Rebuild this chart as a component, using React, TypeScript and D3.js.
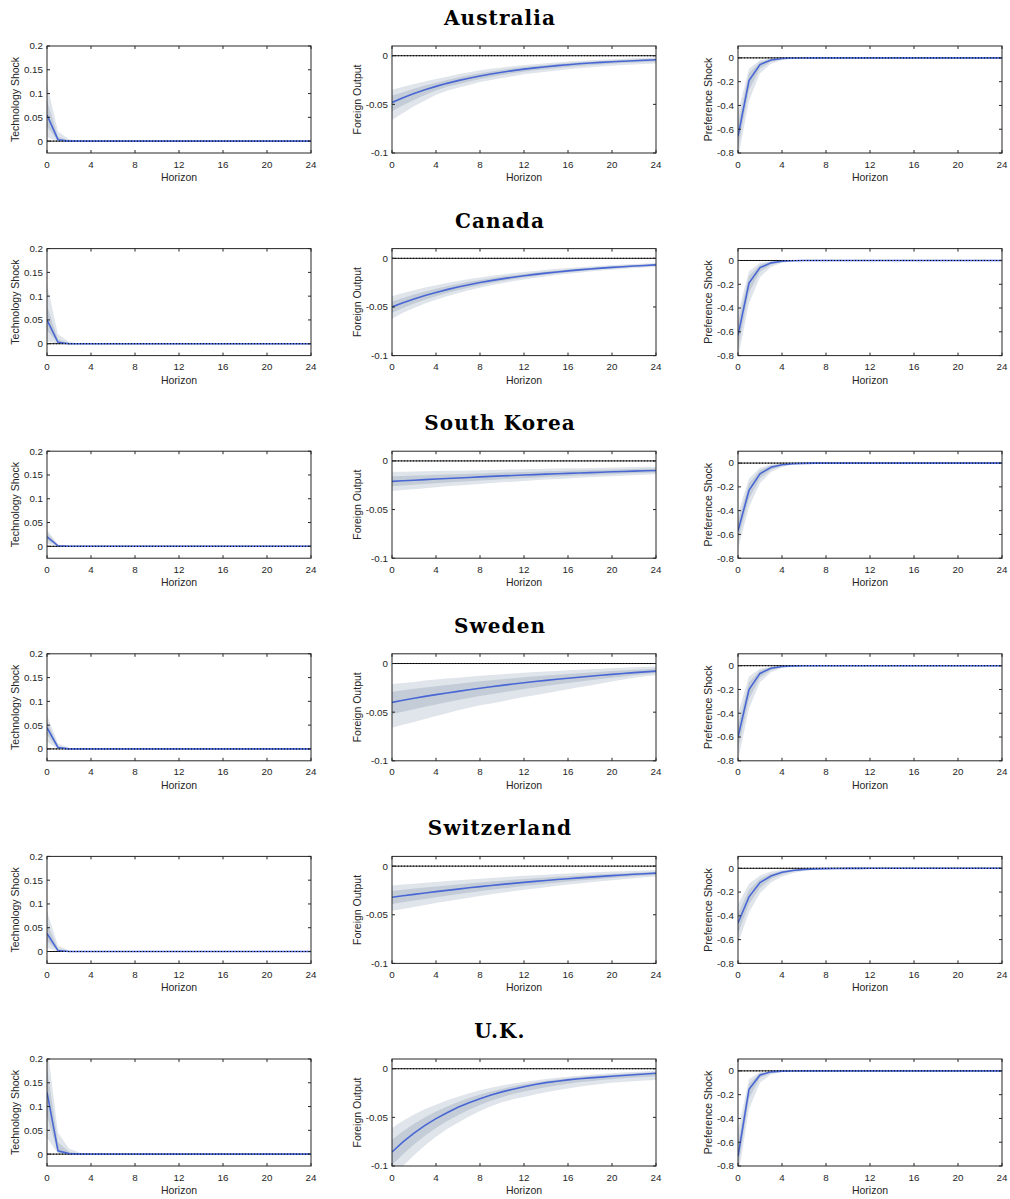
import React from "react";
import * as d3 from "d3";

// countries (one row each) and the three responses (one column each)
const countries = ["Australia", "Canada", "South Korea", "Sweden", "Switzerland", "U.K."];
const yLabels = ["Technology Shock", "Foreign Output", "Preference Shock"];

const horizons = [0, 1, 2, 3, 4, 5, 6, 7, 8, 9, 10, 11, 12, 13, 14, 15, 16, 17, 18, 19, 20, 21, 22, 23, 24];
const xTicks = [0, 4, 8, 12, 16, 20, 24];

const techTicks = [0, 0.05, 0.1, 0.15, 0.2];
const techTickLabels = ["0", "0.05", "0.1", "0.15", "0.2"];
const foTicks = [-0.1, -0.05, 0];
const foTickLabels = ["-0.1", "-0.05", "0"];
const prefTicks = [-0.8, -0.6, -0.4, -0.2, 0];
const prefTickLabels = ["-0.8", "-0.6", "-0.4", "-0.2", "0"];

// ---- Technology shock: median, outer band (lo/hi), inner band (lo/hi)
const auTechMed = [0.055, 0.003, 0, 0, 0, 0, 0, 0, 0, 0, 0, 0, 0, 0, 0, 0, 0, 0, 0, 0, 0, 0, 0, 0, 0];
const auTechLoOut = [0.008, 0, 0, 0, 0, 0, 0, 0, 0, 0, 0, 0, 0, 0, 0, 0, 0, 0, 0, 0, 0, 0, 0, 0, 0];
const auTechHiOut = [0.12, 0.02, 0.004, 0.0005, 0, 0, 0, 0, 0, 0, 0, 0, 0, 0, 0, 0, 0, 0, 0, 0, 0, 0, 0, 0, 0];
const auTechLoIn = [0.03, 0.001, 0, 0, 0, 0, 0, 0, 0, 0, 0, 0, 0, 0, 0, 0, 0, 0, 0, 0, 0, 0, 0, 0, 0];
const auTechHiIn = [0.085, 0.009, 0.001, 0, 0, 0, 0, 0, 0, 0, 0, 0, 0, 0, 0, 0, 0, 0, 0, 0, 0, 0, 0, 0, 0];

const caTechMed = [0.05, 0.003, 0, 0, 0, 0, 0, 0, 0, 0, 0, 0, 0, 0, 0, 0, 0, 0, 0, 0, 0, 0, 0, 0, 0];
const caTechLoOut = [0.005, 0, 0, 0, 0, 0, 0, 0, 0, 0, 0, 0, 0, 0, 0, 0, 0, 0, 0, 0, 0, 0, 0, 0, 0];
const caTechHiOut = [0.125, 0.02, 0.004, 0.0005, 0, 0, 0, 0, 0, 0, 0, 0, 0, 0, 0, 0, 0, 0, 0, 0, 0, 0, 0, 0, 0];
const caTechLoIn = [0.028, 0.001, 0, 0, 0, 0, 0, 0, 0, 0, 0, 0, 0, 0, 0, 0, 0, 0, 0, 0, 0, 0, 0, 0, 0];
const caTechHiIn = [0.08, 0.009, 0.001, 0, 0, 0, 0, 0, 0, 0, 0, 0, 0, 0, 0, 0, 0, 0, 0, 0, 0, 0, 0, 0, 0];

const krTechMed = [0.02, 0.001, 0, 0, 0, 0, 0, 0, 0, 0, 0, 0, 0, 0, 0, 0, 0, 0, 0, 0, 0, 0, 0, 0, 0];
const krTechLoOut = [0.006, 0, 0, 0, 0, 0, 0, 0, 0, 0, 0, 0, 0, 0, 0, 0, 0, 0, 0, 0, 0, 0, 0, 0, 0];
const krTechHiOut = [0.035, 0.004, 0.0005, 0, 0, 0, 0, 0, 0, 0, 0, 0, 0, 0, 0, 0, 0, 0, 0, 0, 0, 0, 0, 0, 0];
const krTechLoIn = [0.013, 0.0005, 0, 0, 0, 0, 0, 0, 0, 0, 0, 0, 0, 0, 0, 0, 0, 0, 0, 0, 0, 0, 0, 0, 0];
const krTechHiIn = [0.028, 0.002, 0, 0, 0, 0, 0, 0, 0, 0, 0, 0, 0, 0, 0, 0, 0, 0, 0, 0, 0, 0, 0, 0, 0];

const seTechMed = [0.045, 0.003, 0, 0, 0, 0, 0, 0, 0, 0, 0, 0, 0, 0, 0, 0, 0, 0, 0, 0, 0, 0, 0, 0, 0];
const seTechLoOut = [0.015, 0, 0, 0, 0, 0, 0, 0, 0, 0, 0, 0, 0, 0, 0, 0, 0, 0, 0, 0, 0, 0, 0, 0, 0];
const seTechHiOut = [0.07, 0.012, 0.002, 0, 0, 0, 0, 0, 0, 0, 0, 0, 0, 0, 0, 0, 0, 0, 0, 0, 0, 0, 0, 0, 0];
const seTechLoIn = [0.03, 0.001, 0, 0, 0, 0, 0, 0, 0, 0, 0, 0, 0, 0, 0, 0, 0, 0, 0, 0, 0, 0, 0, 0, 0];
const seTechHiIn = [0.058, 0.006, 0.001, 0, 0, 0, 0, 0, 0, 0, 0, 0, 0, 0, 0, 0, 0, 0, 0, 0, 0, 0, 0, 0, 0];

const chTechMed = [0.038, 0.002, 0, 0, 0, 0, 0, 0, 0, 0, 0, 0, 0, 0, 0, 0, 0, 0, 0, 0, 0, 0, 0, 0, 0];
const chTechLoOut = [0.008, 0, 0, 0, 0, 0, 0, 0, 0, 0, 0, 0, 0, 0, 0, 0, 0, 0, 0, 0, 0, 0, 0, 0, 0];
const chTechHiOut = [0.085, 0.012, 0.002, 0, 0, 0, 0, 0, 0, 0, 0, 0, 0, 0, 0, 0, 0, 0, 0, 0, 0, 0, 0, 0, 0];
const chTechLoIn = [0.022, 0.001, 0, 0, 0, 0, 0, 0, 0, 0, 0, 0, 0, 0, 0, 0, 0, 0, 0, 0, 0, 0, 0, 0, 0];
const chTechHiIn = [0.06, 0.006, 0.001, 0, 0, 0, 0, 0, 0, 0, 0, 0, 0, 0, 0, 0, 0, 0, 0, 0, 0, 0, 0, 0, 0];

const ukTechMed = [0.13, 0.007, 0.001, 0, 0, 0, 0, 0, 0, 0, 0, 0, 0, 0, 0, 0, 0, 0, 0, 0, 0, 0, 0, 0, 0];
const ukTechLoOut = [0.035, 0.001, 0, 0, 0, 0, 0, 0, 0, 0, 0, 0, 0, 0, 0, 0, 0, 0, 0, 0, 0, 0, 0, 0, 0];
const ukTechHiOut = [0.23, 0.045, 0.012, 0.003, 0.0005, 0, 0, 0, 0, 0, 0, 0, 0, 0, 0, 0, 0, 0, 0, 0, 0, 0, 0, 0, 0];
const ukTechLoIn = [0.08, 0.003, 0, 0, 0, 0, 0, 0, 0, 0, 0, 0, 0, 0, 0, 0, 0, 0, 0, 0, 0, 0, 0, 0, 0];
const ukTechHiIn = [0.18, 0.025, 0.005, 0.001, 0, 0, 0, 0, 0, 0, 0, 0, 0, 0, 0, 0, 0, 0, 0, 0, 0, 0, 0, 0, 0];

// ---- Foreign output
const auFoMed = [-0.048, -0.0432, -0.0389, -0.035, -0.0315, -0.0284, -0.0256, -0.0231, -0.0208, -0.0188, -0.017, -0.0153, -0.0138, -0.0125, -0.0113, -0.0102, -0.0092, -0.0083, -0.0075, -0.0068, -0.0062, -0.0056, -0.0051, -0.0046, -0.0042];
const auFoLoOut = [-0.066, -0.059, -0.052, -0.046, -0.04, -0.036, -0.033, -0.03, -0.027, -0.025, -0.023, -0.021, -0.019, -0.0177, -0.0164, -0.0152, -0.014, -0.013, -0.012, -0.011, -0.0102, -0.0096, -0.009, -0.0085, -0.008];
const auFoHiOut = [-0.035, -0.032, -0.029, -0.0265, -0.024, -0.0215, -0.019, -0.017, -0.015, -0.0135, -0.012, -0.0108, -0.0096, -0.0087, -0.0078, -0.0069, -0.006, -0.0053, -0.0047, -0.0041, -0.0035, -0.003, -0.0025, -0.0021, -0.0017];
const auFoLoIn = [-0.057, -0.051, -0.0455, -0.0405, -0.0358, -0.032, -0.0293, -0.0265, -0.024, -0.0218, -0.0198, -0.018, -0.0164, -0.015, -0.0138, -0.0127, -0.0116, -0.0106, -0.0097, -0.0089, -0.0082, -0.0076, -0.007, -0.0065, -0.0061];
const auFoHiIn = [-0.041, -0.0376, -0.034, -0.0307, -0.0277, -0.025, -0.0223, -0.02, -0.0179, -0.0162, -0.0145, -0.013, -0.0117, -0.0106, -0.0095, -0.0085, -0.0076, -0.0068, -0.0061, -0.0055, -0.0049, -0.0043, -0.0038, -0.0034, -0.003];

const caFoMed = [-0.05, -0.0457, -0.0418, -0.0383, -0.0351, -0.0322, -0.0295, -0.0271, -0.0249, -0.0229, -0.0211, -0.0194, -0.0179, -0.0165, -0.0152, -0.014, -0.0129, -0.0119, -0.011, -0.0101, -0.0093, -0.0086, -0.0079, -0.0073, -0.0067];
const caFoLoOut = [-0.062, -0.056, -0.051, -0.0465, -0.0425, -0.039, -0.0358, -0.0328, -0.0302, -0.0278, -0.0256, -0.0236, -0.0218, -0.0201, -0.0186, -0.0172, -0.0159, -0.0147, -0.0136, -0.0126, -0.0117, -0.0109, -0.0101, -0.0094, -0.0088];
const caFoHiOut = [-0.039, -0.0357, -0.0327, -0.03, -0.0276, -0.0253, -0.0232, -0.0213, -0.0196, -0.018, -0.0165, -0.0152, -0.014, -0.0129, -0.0118, -0.0108, -0.0099, -0.0091, -0.0084, -0.0077, -0.007, -0.0064, -0.0058, -0.0053, -0.0048];
const caFoLoIn = [-0.056, -0.051, -0.0465, -0.0425, -0.039, -0.0357, -0.0327, -0.03, -0.0276, -0.0254, -0.0234, -0.0215, -0.0198, -0.0183, -0.0169, -0.0156, -0.0144, -0.0133, -0.0123, -0.0113, -0.0105, -0.0097, -0.009, -0.0083, -0.0077];
const caFoHiIn = [-0.0445, -0.0407, -0.0372, -0.0341, -0.0313, -0.0287, -0.0264, -0.0242, -0.0222, -0.0204, -0.0188, -0.0173, -0.016, -0.0147, -0.0135, -0.0124, -0.0114, -0.0105, -0.0097, -0.0089, -0.0081, -0.0075, -0.0068, -0.0063, -0.0057];

const krFoMed = [-0.021, -0.0204, -0.0198, -0.0192, -0.0186, -0.018, -0.0175, -0.017, -0.0164, -0.0159, -0.0154, -0.015, -0.0145, -0.0141, -0.0136, -0.0132, -0.0128, -0.0124, -0.012, -0.0116, -0.0112, -0.0108, -0.0105, -0.0101, -0.0098];
const krFoLoOut = [-0.031, -0.03, -0.029, -0.028, -0.027, -0.026, -0.0252, -0.0244, -0.0236, -0.0228, -0.022, -0.0213, -0.0206, -0.0199, -0.0192, -0.0186, -0.018, -0.0174, -0.0168, -0.0162, -0.0157, -0.0152, -0.0147, -0.0142, -0.0138];
const krFoHiOut = [-0.011, -0.011, -0.0108, -0.0106, -0.0104, -0.0102, -0.01, -0.0098, -0.0095, -0.0093, -0.009, -0.0088, -0.0085, -0.0083, -0.008, -0.0078, -0.0076, -0.0074, -0.0072, -0.007, -0.0067, -0.0065, -0.0063, -0.0061, -0.0059];
const krFoLoIn = [-0.026, -0.0252, -0.0244, -0.0236, -0.0229, -0.0221, -0.0215, -0.0208, -0.0201, -0.0195, -0.0188, -0.0183, -0.0177, -0.0172, -0.0166, -0.0161, -0.0156, -0.0151, -0.0146, -0.0141, -0.0136, -0.0131, -0.0127, -0.0123, -0.0119];
const krFoHiIn = [-0.0158, -0.0155, -0.0151, -0.0147, -0.0143, -0.0139, -0.0136, -0.0132, -0.0128, -0.0124, -0.012, -0.0117, -0.0113, -0.011, -0.0106, -0.0103, -0.01, -0.0097, -0.0094, -0.0091, -0.0088, -0.0085, -0.0082, -0.0079, -0.0077];

const seFoMed = [-0.04, -0.0378, -0.0357, -0.0338, -0.032, -0.0303, -0.0286, -0.027, -0.0254, -0.0239, -0.0225, -0.0211, -0.0198, -0.0185, -0.0173, -0.0162, -0.0151, -0.0141, -0.0131, -0.0121, -0.0112, -0.0103, -0.0094, -0.0086, -0.0078];
const seFoLoOut = [-0.066, -0.063, -0.06, -0.057, -0.054, -0.051, -0.048, -0.0455, -0.043, -0.041, -0.039, -0.0365, -0.0345, -0.0325, -0.0305, -0.0285, -0.0265, -0.0245, -0.0225, -0.0205, -0.0185, -0.0165, -0.0147, -0.0132, -0.012];
const seFoHiOut = [-0.021, -0.02, -0.019, -0.0175, -0.0165, -0.0155, -0.0145, -0.0135, -0.0125, -0.0118, -0.011, -0.0102, -0.0095, -0.0088, -0.0082, -0.0076, -0.007, -0.0064, -0.0058, -0.0053, -0.0048, -0.0043, -0.0038, -0.0034, -0.003];
const seFoLoIn = [-0.052, -0.0495, -0.047, -0.0445, -0.042, -0.0398, -0.0376, -0.0355, -0.0335, -0.0316, -0.0298, -0.028, -0.0263, -0.0247, -0.0231, -0.0216, -0.0201, -0.0187, -0.0173, -0.016, -0.0147, -0.0134, -0.0121, -0.0109, -0.0098];
const seFoHiIn = [-0.029, -0.0275, -0.026, -0.0246, -0.0233, -0.022, -0.0207, -0.0195, -0.0183, -0.0172, -0.0162, -0.0152, -0.0142, -0.0132, -0.0123, -0.0115, -0.0107, -0.0099, -0.0092, -0.0085, -0.0078, -0.0071, -0.0064, -0.0058, -0.0052];

const chFoMed = [-0.032, -0.0305, -0.029, -0.0276, -0.0262, -0.0249, -0.0236, -0.0223, -0.0211, -0.0199, -0.0188, -0.0177, -0.0167, -0.0157, -0.0147, -0.0138, -0.0129, -0.0121, -0.0113, -0.0105, -0.0098, -0.0091, -0.0084, -0.0078, -0.0072];
const chFoLoOut = [-0.046, -0.044, -0.042, -0.04, -0.038, -0.036, -0.0342, -0.0324, -0.0307, -0.029, -0.0274, -0.0259, -0.0244, -0.023, -0.0216, -0.0203, -0.019, -0.0178, -0.0166, -0.0155, -0.0144, -0.0134, -0.0124, -0.0115, -0.0106];
const chFoHiOut = [-0.02, -0.019, -0.018, -0.0171, -0.0162, -0.0153, -0.0145, -0.0137, -0.0129, -0.0121, -0.0114, -0.0107, -0.01, -0.0094, -0.0088, -0.0082, -0.0076, -0.0071, -0.0066, -0.0061, -0.0056, -0.0052, -0.0048, -0.0044, -0.004];
const chFoLoIn = [-0.039, -0.0372, -0.0354, -0.0337, -0.032, -0.0304, -0.0289, -0.0273, -0.0259, -0.0244, -0.0231, -0.0218, -0.0205, -0.0193, -0.0181, -0.017, -0.0159, -0.0149, -0.0139, -0.013, -0.0121, -0.0112, -0.0104, -0.0096, -0.0089];
const chFoHiIn = [-0.0255, -0.0243, -0.0231, -0.022, -0.0209, -0.0198, -0.0188, -0.0178, -0.0168, -0.0159, -0.015, -0.0141, -0.0133, -0.0125, -0.0117, -0.011, -0.0103, -0.0096, -0.009, -0.0084, -0.0078, -0.0072, -0.0067, -0.0062, -0.0057];

const ukFoMed = [-0.0856, -0.0753, -0.0663, -0.0583, -0.0513, -0.0452, -0.0397, -0.035, -0.0308, -0.0271, -0.0238, -0.021, -0.0185, -0.0162, -0.0143, -0.0128, -0.0115, -0.0103, -0.0094, -0.0086, -0.0078, -0.007, -0.0062, -0.0054, -0.0047];
const ukFoLoOut = [-0.112, -0.1, -0.089, -0.079, -0.07, -0.062, -0.0555, -0.049, -0.0435, -0.0385, -0.0345, -0.0315, -0.029, -0.0265, -0.0243, -0.0222, -0.0203, -0.0186, -0.017, -0.0157, -0.0145, -0.0136, -0.0128, -0.0121, -0.0115];
const ukFoHiOut = [-0.061, -0.0535, -0.047, -0.0415, -0.037, -0.0325, -0.0287, -0.0252, -0.0222, -0.0195, -0.0172, -0.0152, -0.0136, -0.012, -0.0106, -0.0093, -0.0082, -0.0072, -0.0063, -0.0055, -0.0047, -0.004, -0.0033, -0.0027, -0.0022];
const ukFoLoIn = [-0.099, -0.088, -0.078, -0.069, -0.061, -0.054, -0.0477, -0.0422, -0.0373, -0.033, -0.0292, -0.026, -0.0235, -0.0212, -0.0191, -0.0172, -0.0155, -0.014, -0.0128, -0.0117, -0.0108, -0.0099, -0.0091, -0.0084, -0.0078];
const ukFoHiIn = [-0.073, -0.0643, -0.0566, -0.0498, -0.044, -0.0388, -0.0342, -0.0301, -0.0265, -0.0233, -0.0205, -0.0181, -0.016, -0.0141, -0.0125, -0.011, -0.0097, -0.0086, -0.0077, -0.0069, -0.0061, -0.0054, -0.0047, -0.0041, -0.0035];

// ---- Preference shock
const auPrefMed = [-0.66, -0.19, -0.056, -0.018, -0.005, -0.0015, -0.0005, 0, 0, 0, 0, 0, 0, 0, 0, 0, 0, 0, 0, 0, 0, 0, 0, 0, 0];
const auPrefLoOut = [-0.85, -0.36, -0.13, -0.05, -0.018, -0.007, -0.003, -0.001, 0, 0, 0, 0, 0, 0, 0, 0, 0, 0, 0, 0, 0, 0, 0, 0, 0];
const auPrefHiOut = [-0.45, -0.09, -0.02, -0.004, -0.001, 0, 0, 0, 0, 0, 0, 0, 0, 0, 0, 0, 0, 0, 0, 0, 0, 0, 0, 0, 0];
const auPrefLoIn = [-0.76, -0.27, -0.09, -0.032, -0.011, -0.004, -0.0015, -0.0005, 0, 0, 0, 0, 0, 0, 0, 0, 0, 0, 0, 0, 0, 0, 0, 0, 0];
const auPrefHiIn = [-0.55, -0.13, -0.035, -0.009, -0.002, -0.0005, 0, 0, 0, 0, 0, 0, 0, 0, 0, 0, 0, 0, 0, 0, 0, 0, 0, 0, 0];

const caPrefMed = [-0.63, -0.19, -0.06, -0.02, -0.006, -0.002, -0.0006, 0, 0, 0, 0, 0, 0, 0, 0, 0, 0, 0, 0, 0, 0, 0, 0, 0, 0];
const caPrefLoOut = [-0.82, -0.36, -0.14, -0.055, -0.02, -0.008, -0.003, -0.001, 0, 0, 0, 0, 0, 0, 0, 0, 0, 0, 0, 0, 0, 0, 0, 0, 0];
const caPrefHiOut = [-0.44, -0.09, -0.02, -0.005, -0.001, 0, 0, 0, 0, 0, 0, 0, 0, 0, 0, 0, 0, 0, 0, 0, 0, 0, 0, 0, 0];
const caPrefLoIn = [-0.74, -0.27, -0.095, -0.035, -0.012, -0.004, -0.0015, -0.0005, 0, 0, 0, 0, 0, 0, 0, 0, 0, 0, 0, 0, 0, 0, 0, 0, 0];
const caPrefHiIn = [-0.52, -0.13, -0.035, -0.01, -0.003, -0.001, 0, 0, 0, 0, 0, 0, 0, 0, 0, 0, 0, 0, 0, 0, 0, 0, 0, 0, 0];

const krPrefMed = [-0.57, -0.23, -0.09, -0.035, -0.014, -0.005, -0.002, -0.0007, 0, 0, 0, 0, 0, 0, 0, 0, 0, 0, 0, 0, 0, 0, 0, 0, 0];
const krPrefLoOut = [-0.72, -0.37, -0.17, -0.075, -0.032, -0.014, -0.006, -0.0025, -0.001, 0, 0, 0, 0, 0, 0, 0, 0, 0, 0, 0, 0, 0, 0, 0, 0];
const krPrefHiOut = [-0.42, -0.13, -0.04, -0.012, -0.004, -0.001, 0, 0, 0, 0, 0, 0, 0, 0, 0, 0, 0, 0, 0, 0, 0, 0, 0, 0, 0];
const krPrefLoIn = [-0.65, -0.3, -0.13, -0.055, -0.022, -0.009, -0.0035, -0.0013, 0, 0, 0, 0, 0, 0, 0, 0, 0, 0, 0, 0, 0, 0, 0, 0, 0];
const krPrefHiIn = [-0.49, -0.17, -0.06, -0.02, -0.008, -0.003, -0.001, 0, 0, 0, 0, 0, 0, 0, 0, 0, 0, 0, 0, 0, 0, 0, 0, 0, 0];

const sePrefMed = [-0.6, -0.2, -0.065, -0.021, -0.007, -0.002, -0.0007, 0, 0, 0, 0, 0, 0, 0, 0, 0, 0, 0, 0, 0, 0, 0, 0, 0, 0];
const sePrefLoOut = [-0.8, -0.36, -0.14, -0.055, -0.02, -0.008, -0.003, -0.001, 0, 0, 0, 0, 0, 0, 0, 0, 0, 0, 0, 0, 0, 0, 0, 0, 0];
const sePrefHiOut = [-0.4, -0.09, -0.025, -0.006, -0.0015, 0, 0, 0, 0, 0, 0, 0, 0, 0, 0, 0, 0, 0, 0, 0, 0, 0, 0, 0, 0];
const sePrefLoIn = [-0.7, -0.28, -0.1, -0.036, -0.013, -0.005, -0.0018, -0.0006, 0, 0, 0, 0, 0, 0, 0, 0, 0, 0, 0, 0, 0, 0, 0, 0, 0];
const sePrefHiIn = [-0.5, -0.14, -0.04, -0.011, -0.003, -0.001, 0, 0, 0, 0, 0, 0, 0, 0, 0, 0, 0, 0, 0, 0, 0, 0, 0, 0, 0];

const chPrefMed = [-0.46, -0.24, -0.12, -0.065, -0.034, -0.018, -0.009, -0.005, -0.0025, -0.0013, -0.0007, -0.0003, 0, 0, 0, 0, 0, 0, 0, 0, 0, 0, 0, 0, 0];
const chPrefLoOut = [-0.63, -0.37, -0.21, -0.12, -0.07, -0.04, -0.023, -0.013, -0.0075, -0.0043, -0.0025, -0.0014, -0.0008, -0.0004, 0, 0, 0, 0, 0, 0, 0, 0, 0, 0, 0];
const chPrefHiOut = [-0.3, -0.13, -0.06, -0.027, -0.012, -0.005, -0.002, -0.001, 0, 0, 0, 0, 0, 0, 0, 0, 0, 0, 0, 0, 0, 0, 0, 0, 0];
const chPrefLoIn = [-0.55, -0.3, -0.165, -0.09, -0.05, -0.028, -0.015, -0.0085, -0.0047, -0.0026, -0.0014, -0.0008, -0.0004, 0, 0, 0, 0, 0, 0, 0, 0, 0, 0, 0, 0];
const chPrefHiIn = [-0.38, -0.18, -0.09, -0.045, -0.022, -0.011, -0.005, -0.0025, -0.0012, -0.0006, 0, 0, 0, 0, 0, 0, 0, 0, 0, 0, 0, 0, 0, 0, 0];

const ukPrefMed = [-0.72, -0.155, -0.035, -0.008, -0.002, -0.0005, 0, 0, 0, 0, 0, 0, 0, 0, 0, 0, 0, 0, 0, 0, 0, 0, 0, 0, 0];
const ukPrefLoOut = [-0.9, -0.32, -0.1, -0.03, -0.009, -0.003, -0.001, 0, 0, 0, 0, 0, 0, 0, 0, 0, 0, 0, 0, 0, 0, 0, 0, 0, 0];
const ukPrefHiOut = [-0.5, -0.07, -0.01, -0.002, -0.0005, 0, 0, 0, 0, 0, 0, 0, 0, 0, 0, 0, 0, 0, 0, 0, 0, 0, 0, 0, 0];
const ukPrefLoIn = [-0.82, -0.23, -0.06, -0.016, -0.004, -0.0012, -0.0004, 0, 0, 0, 0, 0, 0, 0, 0, 0, 0, 0, 0, 0, 0, 0, 0, 0, 0];
const ukPrefHiIn = [-0.61, -0.11, -0.02, -0.004, -0.001, 0, 0, 0, 0, 0, 0, 0, 0, 0, 0, 0, 0, 0, 0, 0, 0, 0, 0, 0, 0];

type Series = { med: number[]; loOut: number[]; hiOut: number[]; loIn: number[]; hiIn: number[] };
const mk = (med, loOut, hiOut, loIn, hiIn): Series => ({ med, loOut, hiOut, loIn, hiIn });

// rows = countries, columns = tech / foreign output / preference
const grid: Series[][] = [
  [mk(auTechMed, auTechLoOut, auTechHiOut, auTechLoIn, auTechHiIn), mk(auFoMed, auFoLoOut, auFoHiOut, auFoLoIn, auFoHiIn), mk(auPrefMed, auPrefLoOut, auPrefHiOut, auPrefLoIn, auPrefHiIn)],
  [mk(caTechMed, caTechLoOut, caTechHiOut, caTechLoIn, caTechHiIn), mk(caFoMed, caFoLoOut, caFoHiOut, caFoLoIn, caFoHiIn), mk(caPrefMed, caPrefLoOut, caPrefHiOut, caPrefLoIn, caPrefHiIn)],
  [mk(krTechMed, krTechLoOut, krTechHiOut, krTechLoIn, krTechHiIn), mk(krFoMed, krFoLoOut, krFoHiOut, krFoLoIn, krFoHiIn), mk(krPrefMed, krPrefLoOut, krPrefHiOut, krPrefLoIn, krPrefHiIn)],
  [mk(seTechMed, seTechLoOut, seTechHiOut, seTechLoIn, seTechHiIn), mk(seFoMed, seFoLoOut, seFoHiOut, seFoLoIn, seFoHiIn), mk(sePrefMed, sePrefLoOut, sePrefHiOut, sePrefLoIn, sePrefHiIn)],
  [mk(chTechMed, chTechLoOut, chTechHiOut, chTechLoIn, chTechHiIn), mk(chFoMed, chFoLoOut, chFoHiOut, chFoLoIn, chFoHiIn), mk(chPrefMed, chPrefLoOut, chPrefHiOut, chPrefLoIn, chPrefHiIn)],
  [mk(ukTechMed, ukTechLoOut, ukTechHiOut, ukTechLoIn, ukTechHiIn), mk(ukFoMed, ukFoLoOut, ukFoHiOut, ukFoLoIn, ukFoHiIn), mk(ukPrefMed, ukPrefLoOut, ukPrefHiOut, ukPrefLoIn, ukPrefHiIn)],
];

const yDomains: [number, number][] = [[-0.025, 0.2], [-0.1, 0.01], [-0.8, 0.1]];
const yTicks = [techTicks, foTicks, prefTicks];
const yTickLabels = [techTickLabels, foTickLabels, prefTickLabels];

// layout
const W = 1010;
const H = 1199;
const colLeft = [47, 392, 738];
const plotW = 264;
const plotH = 107;
const firstTop = 46;
const rowStep = 202.6;
const yLabelX = [-28, -31, -26];

const axisColor = "#262626";
const sansFont = "'Liberation Sans', Arial, Helvetica, sans-serif";

const Panel = ({ row, col, s }: { row: number; col: number; s: Series }) => {
  const left = colLeft[col];
  const top = firstTop + row * rowStep;
  const x = d3.scaleLinear().domain([0, 24]).range([left, left + plotW]);
  const y = d3.scaleLinear().domain(yDomains[col]).range([top + plotH, top]);

  const band = (lo: number[], hi: number[]) =>
    d3
      .area<number>()
      .x((_, i) => x(horizons[i]))
      .y0((_, i) => y(lo[i]))
      .y1((d) => y(d))(hi) || "";
  const line = d3
    .line<number>()
    .x((_, i) => x(horizons[i]))
    .y((d) => y(d))(s.med) || "";

  const clipId = `clip-${row}-${col}`;
  const tick = 3;

  return (
    <g>
      <defs>
        <clipPath id={clipId}>
          <rect x={left} y={top} width={plotW} height={plotH} />
        </clipPath>
      </defs>
      <g clipPath={`url(#${clipId})`}>
        <path d={band(s.loOut, s.hiOut)} fill="#e0e5eb" />
        <path d={band(s.loIn, s.hiIn)} fill="#c4cdd7" />
        <line x1={left} x2={left + plotW} y1={y(0)} y2={y(0)} stroke="#000" strokeWidth={0.9} />
        <path d={line} fill="none" stroke="#4866d4" strokeWidth={1.6} />
        <line x1={left} x2={left + plotW} y1={y(0)} y2={y(0)} stroke="#000" strokeWidth={1} strokeDasharray="1 2" />
      </g>
      {/* box with inward ticks */}
      <rect x={left} y={top} width={plotW} height={plotH} fill="none" stroke={axisColor} strokeWidth={1} />
      {xTicks.map((t) => (
        <g key={`x${t}`}>
          <line x1={x(t)} x2={x(t)} y1={top + plotH} y2={top + plotH - tick} stroke={axisColor} />
          <line x1={x(t)} x2={x(t)} y1={top} y2={top + tick} stroke={axisColor} />
          <text x={x(t)} y={top + plotH + 14.5} textAnchor="middle" fontSize={9.8} fill={axisColor} fontFamily={sansFont}>
            {t}
          </text>
        </g>
      ))}
      {yTicks[col].map((t, i) => (
        <g key={`y${t}`}>
          <line x1={left} x2={left + tick} y1={y(t)} y2={y(t)} stroke={axisColor} />
          <line x1={left + plotW} x2={left + plotW - tick} y1={y(t)} y2={y(t)} stroke={axisColor} />
          <text x={left - 4} y={y(t) + 3.4} textAnchor="end" fontSize={9.8} fill={axisColor} fontFamily={sansFont}>
            {yTickLabels[col][i]}
          </text>
        </g>
      ))}
      <text x={left + plotW / 2} y={top + plotH + 28} textAnchor="middle" fontSize={10.5} fill={axisColor} fontFamily={sansFont}>
        Horizon
      </text>
      <text
        transform={`translate(${left + yLabelX[col]}, ${top + plotH / 2}) rotate(-90)`}
        textAnchor="middle"
        fontSize={10.5}
        fill={axisColor}
        fontFamily={sansFont}
      >
        {yLabels[col]}
      </text>
    </g>
  );
};

export default function App() {
  return (
    <svg
      width={W}
      height={H}
      style={{ position: "absolute", left: 0, top: 0, background: "#fff" }}
    >
      <rect width={W} height={H} fill="#fff" />
      {countries.map((c, r) => (
        <g key={c}>
          <text
            x={500}
            y={firstTop + r * rowStep - 21}
            textAnchor="middle"
            fontSize={20}
            fontWeight="bold"
            fontFamily="'DejaVu Serif', serif"
            letterSpacing={1.1}
            fill="#000"
          >
            {c}
          </text>
          {grid[r].map((s, col) => (
            <Panel key={col} row={r} col={col} s={s} />
          ))}
        </g>
      ))}
    </svg>
  );
}
